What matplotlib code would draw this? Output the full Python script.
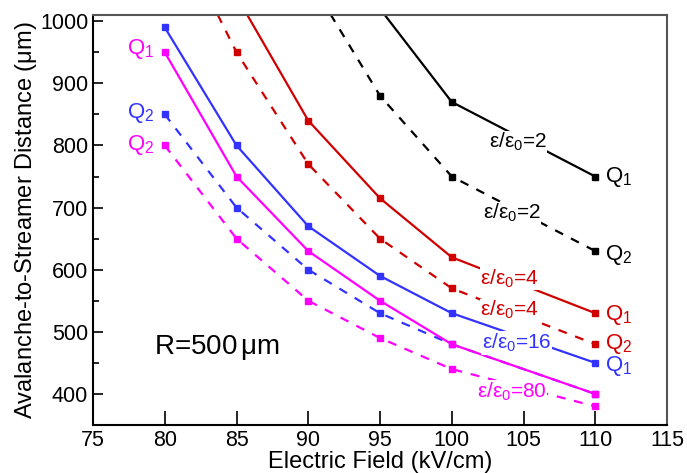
import matplotlib
matplotlib.use("Agg")
import matplotlib.pyplot as plt

plt.rcParams['font.family'] = ['Liberation Sans', 'DejaVu Sans']
plt.rcParams['mathtext.fontset'] = 'custom'
plt.rcParams['mathtext.rm'] = 'Liberation Sans'
plt.rcParams['mathtext.it'] = 'Liberation Sans'

# Electric field (kV/cm) and avalanche-to-streamer distance (um)
eps2_q1_x = [95, 100, 110]
eps2_q1_y = [1020, 870, 750]
eps2_q2_x = [90, 95, 100, 110]
eps2_q2_y = [1070, 880, 750, 630]

eps4_q1_x = [85, 90, 95, 100, 110]
eps4_q1_y = [1040, 840, 715, 620, 530]
eps4_q2_x = [80, 85, 90, 95, 100, 110]
eps4_q2_y = [1180, 950, 770, 650, 570, 480]

eps16_q1_x = [80, 85, 90, 95, 100, 110]
eps16_q1_y = [990, 800, 670, 590, 530, 450]
eps16_q2_x = [80, 85, 90, 95, 100, 110]
eps16_q2_y = [850, 700, 600, 530, 480, 400]

eps80_q1_x = [80, 85, 90, 95, 100, 110]
eps80_q1_y = [950, 750, 630, 550, 480, 400]
eps80_q2_x = [80, 85, 90, 95, 100, 110]
eps80_q2_y = [800, 650, 550, 490, 440, 380]

x_ticks = [75, 80, 85, 90, 95, 100, 105, 110, 115]
y_ticks = [400, 500, 600, 700, 800, 900, 1000]

BLACK = '#000000'
RED = '#D00000'
BLUE = '#3333FF'
PINK = '#FF00FF'

fig = plt.figure(figsize=(6.87, 4.73), dpi=100)
ax = fig.add_axes([0.1354, 0.1015, 0.8355, 0.8668])

lw = 1.6
ms = 4
dash = (0, (4, 4))


def series(x, y, color, dashed):
    ls = dash if dashed else '-'
    ax.plot(x, y, color=color, lw=lw, ls=ls, marker='s', ms=ms, clip_on=True)


series(eps2_q1_x, eps2_q1_y, BLACK, False)
series(eps2_q2_x, eps2_q2_y, BLACK, True)
series(eps4_q1_x, eps4_q1_y, RED, False)
series(eps4_q2_x, eps4_q2_y, RED, True)
series(eps16_q1_x, eps16_q1_y, BLUE, False)
series(eps16_q2_x, eps16_q2_y, BLUE, True)
series(eps80_q1_x, eps80_q1_y, PINK, False)
series(eps80_q2_x, eps80_q2_y, PINK, True)

ax.set_xlim(75, 115)
ax.set_ylim(350, 1010)
ax.set_xticks(x_ticks)
ax.set_yticks(y_ticks)
ax.set_yticks(range(350, 1001, 50), minor=True)
ax.tick_params(which='both', direction='in', labelsize=15.5, width=1.2)
ax.tick_params(axis='y', which='major', length=7)
ax.tick_params(axis='y', which='minor', length=4)
ax.tick_params(axis='x', which='major', length=10)
ax.tick_params(axis='x', which='minor', length=0)
for s in ax.spines.values():
    s.set_linewidth(1.5)
ax.spines['top'].set_color('#555555')
ax.spines['right'].set_color('#555555')

ax.set_xlabel('Electric Field (kV/cm)', fontsize=17, labelpad=0)
ax.set_ylabel('Avalanche-to-Streamer Distance ($\\mu$m)', fontsize=17, labelpad=1)

eps_fs = 15
q_fs = 16
bbox = dict(facecolor='white', edgecolor='none', pad=0.3)


def eps_label(x, y, val, color):
    ax.text(x, y, r'$\varepsilon/\varepsilon_0$=' + val, color=color,
            fontsize=eps_fs, ha='center', va='center', bbox=bbox)


def q_label(x, y, idx, color):
    ax.text(x, y, 'Q$_' + idx + '$', color=color, fontsize=q_fs,
            ha='center', va='center')


eps_label(104.6, 805, '2', BLACK)
eps_label(104.2, 691, '2', BLACK)
eps_label(104.0, 586, '4', RED)
eps_label(104.0, 535, '4', RED)
eps_label(104.5, 482, '16', BLUE)
eps_label(104.2, 403, '80', PINK)

q_label(111.6, 749, '1', BLACK)
q_label(111.6, 623, '2', BLACK)
q_label(111.6, 527, '1', RED)
q_label(111.6, 481, '2', RED)
q_label(111.6, 445, '1', BLUE)
q_label(78.3, 956, '1', PINK)
q_label(78.3, 852, '2', BLUE)
q_label(78.3, 800, '2', PINK)

ax.text(83.6, 474, 'R=500$\\,\\mu$m', fontsize=20, ha='center', va='center')

fig.savefig('out.png', dpi=100)
